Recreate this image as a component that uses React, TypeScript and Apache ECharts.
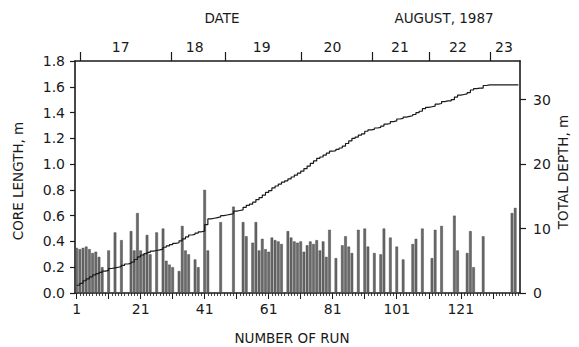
import React, { useEffect, useRef } from 'react';
import * as echarts from 'echarts';

// Core length (m) for runs 1..139 (null = no core recovered / no bar)
const coreLength: (number | null)[] = [
  0.35, 0.34, 0.35, 0.36, 0.34, 0.31, 0.32, 0.28, 0.20, null,
  0.33, null, 0.47, null, 0.41, null, null, 0.48, 0.33, 0.62,
  0.33, 0.30, 0.45, 0.30, null, 0.47, null, 0.50, 0.25, 0.22,
  0.20, null, 0.17, 0.52, 0.33, 0.30, null, 0.26, 0.20, null,
  0.80, 0.33, null, null, null, 0.55, null, null, null, 0.67,
  null, null, 0.55, 0.44, null, 0.39, 0.55, 0.33, 0.42, 0.34,
  0.32, 0.43, 0.41, 0.40, 0.38, null, 0.48, 0.43, 0.40, 0.39,
  0.40, 0.32, 0.37, 0.40, 0.38, 0.41, 0.33, 0.40, 0.28, 0.49,
  null, 0.27, null, 0.37, 0.44, 0.36, 0.31, null, 0.49, null,
  0.50, 0.36, null, 0.31, null, 0.30, 0.50, null, 0.43, null,
  0.36, null, 0.26, null, null, 0.38, 0.42, null, 0.50, null,
  null, 0.27, 0.49, null, 0.52, null, null, null, 0.60, 0.33,
  null, null, 0.31, 0.48, 0.20, null, null, 0.44, null, null,
  null, null, null, null, null, null, 0.62, 0.66, null,
];

// Cumulative total depth (m) after each run 1..139
const totalDepth: number[] = [
  1.2, 1.5, 1.9, 2.2, 2.5, 2.8, 3.0, 3.2, 3.4, 3.5,
  3.8, 3.9, 4.0, 4.1, 4.3, 4.5, 4.6, 4.8, 5.2, 5.6,
  5.9, 6.1, 6.3, 6.5, 6.6, 6.7, 6.8, 7.1, 7.3, 7.5,
  7.7, 7.8, 8.1, 8.4, 8.7, 9.0, 9.1, 9.3, 9.5, 9.6,
  10.6, 11.5, 11.6, 11.7, 11.8, 12.0, 12.1, 12.2, 12.3, 12.7,
  12.8, 12.9, 13.3, 13.6, 13.8, 14.1, 14.5, 14.8, 15.2, 15.6,
  15.9, 16.3, 16.6, 16.9, 17.2, 17.4, 17.7, 18.0, 18.3, 18.6,
  18.9, 19.3, 19.7, 20.1, 20.5, 20.9, 21.1, 21.4, 21.7, 22.0,
  22.1, 22.3, 22.5, 22.8, 23.2, 23.6, 24.0, 24.2, 24.5, 24.7,
  25.1, 25.3, 25.4, 25.6, 25.7, 25.9, 26.2, 26.3, 26.6, 26.7,
  27.0, 27.1, 27.3, 27.4, 27.5, 27.7, 28.0, 28.2, 28.6, 28.8,
  28.9, 29.0, 29.3, 29.4, 29.7, 29.8, 29.8, 30.0, 30.4, 30.7,
  30.8, 30.9, 31.1, 31.5, 31.7, 31.8, 31.8, 32.2, 32.3, 32.3,
  32.3, 32.3, 32.3, 32.3, 32.3, 32.3, 32.3, 32.3, 32.3,
];

const runLabels = [1, 21, 41, 61, 81, 101, 121];
const majorRunTicks = [1, 11, 21, 31, 41, 51, 61, 71, 81, 91, 101, 111, 121, 131];
const depthTicks = [0, 10, 20, 30];

// Top date axis (positions expressed in run numbers)
const days = ['17', '18', '19', '20', '21', '22', '23'];
const dayBoundaries = [2, 30.5, 47.3, 71.2, 93.4, 111.1, 130.1];
const dayLabelPos = [14.8, 37.9, 58.8, 80.9, 102, 120.1, 134.5];

const FONT = 'DejaVu Sans';
const INK = '#1a1a1a';

export default function App() {
  const ref = useRef<HTMLDivElement>(null);

  useEffect(() => {
    document.body.style.margin = '0';
    if (!ref.current) return;
    const chart = echarts.init(ref.current, undefined, { renderer: 'svg' });

    const runs = coreLength.map((_, i) => i + 1);
    const barData = coreLength.map((v, i) => [runs[i], v]);
    const lineData = totalDepth.map((v, i) => [i + 1, v]);

    const axisLine = { show: true, lineStyle: { color: INK, width: 1.6 } };
    const label = { color: INK, fontFamily: FONT, fontSize: 14 };
    const titleFont = `13.5px "${FONT}"`;

    chart.setOption({
      animation: false,
      backgroundColor: '#ffffff',
      grid: { left: 75, right: 59, top: 61, bottom: 54 },
      xAxis: [
        {
          type: 'value', min: 0.5, max: 139.5, position: 'bottom',
          axisLine,
          axisTick: { show: true, customValues: runs, length: 3, lineStyle: { color: INK, width: 0.8 } },
          axisLabel: { ...label, customValues: runLabels, margin: 9 },
          splitLine: { show: false },
        },
        {
          type: 'value', min: 0.5, max: 139.5, position: 'bottom',
          axisLine: { show: false },
          axisTick: { show: true, customValues: majorRunTicks, length: 6, lineStyle: { color: INK, width: 1 } },
          axisLabel: { show: false },
          splitLine: { show: false },
        },
        {
          type: 'value', min: 0.5, max: 139.5, position: 'top',
          axisLine,
          axisTick: { show: true, customValues: dayBoundaries, length: 9, lineStyle: { color: INK, width: 1.2 } },
          axisLabel: {
            ...label, customValues: dayLabelPos, margin: 7,
            formatter: (v: number) => {
              const k = dayLabelPos.findIndex((p) => Math.abs(p - v) < 0.01);
              return k >= 0 ? days[k] : '';
            },
          },
          splitLine: { show: false },
        },
      ],
      yAxis: [
        {
          type: 'value', min: 0, max: 1.8, interval: 0.2, position: 'left',
          axisLine,
          axisTick: { show: true, length: 5, lineStyle: { color: INK, width: 1.2 } },
          axisLabel: { ...label, margin: 10, formatter: (v: number) => v.toFixed(1) },
          splitLine: { show: false },
        },
        {
          type: 'value', min: 0, max: 36, position: 'right',
          axisLine,
          axisTick: { show: true, customValues: depthTicks, length: 6, lineStyle: { color: INK, width: 1.2 } },
          axisLabel: { ...label, customValues: depthTicks, margin: 13 },
          splitLine: { show: false },
        },
      ],
      series: [
        {
          type: 'bar', xAxisIndex: 0, yAxisIndex: 0,
          data: barData, barWidth: 2.6,
          itemStyle: { color: '#6a6a6a', borderColor: '#333333', borderWidth: 0.4 },
          z: 2,
        },
        {
          type: 'line', xAxisIndex: 0, yAxisIndex: 1,
          data: lineData, step: 'end', symbol: 'none',
          lineStyle: { color: INK, width: 1.2 },
          z: 3,
        },
      ],
      graphic: [
        { type: 'text', x: 222, y: 18, style: { text: 'DATE', font: titleFont, fill: INK, align: 'center', verticalAlign: 'middle' } },
        { type: 'text', x: 444, y: 18, style: { text: 'AUGUST, 1987', font: titleFont, fill: INK, align: 'center', verticalAlign: 'middle' } },
        { type: 'text', x: 292, y: 338, style: { text: 'NUMBER OF RUN', font: titleFont, fill: INK, align: 'center', verticalAlign: 'middle' } },
        { type: 'text', x: 18, y: 181, rotation: Math.PI / 2, style: { text: 'CORE LENGTH, m', font: titleFont, fill: INK, align: 'center', verticalAlign: 'middle' } },
        { type: 'text', x: 563, y: 172, rotation: Math.PI / 2, style: { text: 'TOTAL DEPTH, m', font: titleFont, fill: INK, align: 'center', verticalAlign: 'middle' } },
      ],
    });

    return () => chart.dispose();
  }, []);

  return <div ref={ref} style={{ width: 579, height: 347 }} />;
}
